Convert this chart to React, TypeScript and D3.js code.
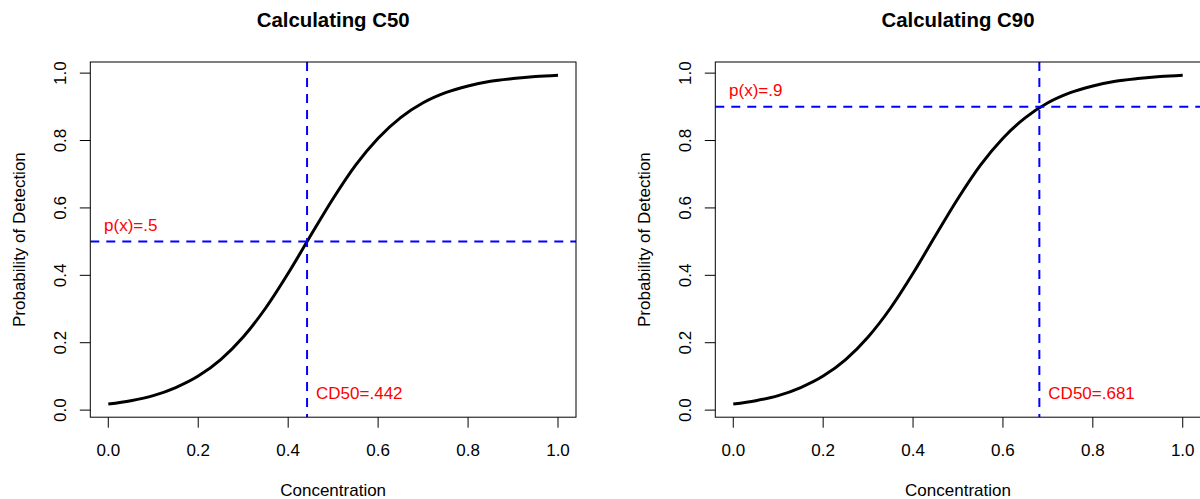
import React from "react";
import * as d3 from "d3";

// Concentration grid and estimated probability of detection
const concentration = [0, 0.05, 0.1, 0.15, 0.2, 0.25, 0.3, 0.35, 0.4, 0.45, 0.5, 0.55, 0.6, 0.65, 0.7, 0.75, 0.8, 0.85, 0.9, 0.95, 1.0];
const probability = [0.018, 0.028, 0.043, 0.067, 0.101, 0.15, 0.217, 0.303, 0.406, 0.518, 0.628, 0.727, 0.807, 0.868, 0.912, 0.942, 0.962, 0.976, 0.984, 0.99, 0.994];

const xTicks = [0, 0.2, 0.4, 0.6, 0.8, 1.0];
const yTicks = [0, 0.2, 0.4, 0.6, 0.8, 1.0];

const panelTitles = ["Calculating C50", "Calculating C90"];
const targetP = [0.5, 0.9];
const targetC = [0.442, 0.681];
const pLabels = ["p(x)=.5", "p(x)=.9"];
const cLabels = ["CD50=.442", "CD50=.681"];
const pLabelPos = [0.55, 0.95];

const FONT = "'Liberation Sans', Arial, Helvetica, sans-serif";

function Panel({ idx, left, right }: { idx: number; left: number; right: number }) {
  const top = 62;
  const bottom = 417.2;
  const xDom = [0, 1];
  const xr = xDom[1] - xDom[0];
  const xScale = d3.scaleLinear().domain([xDom[0] - 0.04 * xr, xDom[1] + 0.04 * xr]).range([left, right]);
  const [ymin, ymax] = d3.extent(probability) as [number, number];
  const yr = ymax - ymin;
  const yScale = d3.scaleLinear().domain([ymin - 0.04 * yr, ymax + 0.04 * yr]).range([bottom, top]);

  const data = concentration.map((c, i) => [c, probability[i]] as [number, number]);
  const line = d3
    .line<[number, number]>()
    .x((d) => xScale(d[0]))
    .y((d) => yScale(d[1]))
    .curve(d3.curveMonotoneX);

  const clipId = `clip${idx}`;
  const cx = (left + right) / 2;
  const cy = (top + bottom) / 2;
  const fmt = d3.format(".1f");

  return (
    <g>
      <defs>
        <clipPath id={clipId}>
          <rect x={left} y={top} width={right - left} height={bottom - top} />
        </clipPath>
      </defs>
      <text x={cx} y={27} textAnchor="middle" fontFamily={FONT} fontWeight="bold" fontSize={20.4} fill="#000">
        {panelTitles[idx]}
      </text>
      <g clipPath={`url(#${clipId})`}>
        <path d={line(data) || ""} fill="none" stroke="#000" strokeWidth={3} />
        <line
          x1={left}
          x2={right}
          y1={yScale(targetP[idx])}
          y2={yScale(targetP[idx])}
          stroke="#0000FF"
          strokeWidth={2}
          strokeDasharray="9,7"
        />
        <line
          x1={xScale(targetC[idx])}
          x2={xScale(targetC[idx])}
          y1={top}
          y2={bottom}
          stroke="#0000FF"
          strokeWidth={2}
          strokeDasharray="9,7"
        />
      </g>
      <rect x={left} y={top} width={right - left} height={bottom - top} fill="none" stroke="#000" strokeWidth={1} />
      {xTicks.map((t) => (
        <g key={"x" + t}>
          <line x1={xScale(t)} x2={xScale(t)} y1={bottom} y2={bottom + 10.5} stroke="#000" strokeWidth={1} />
          <text x={xScale(t)} y={455.5} textAnchor="middle" fontFamily={FONT} fontSize={17} fill="#000">
            {fmt(t)}
          </text>
        </g>
      ))}
      {yTicks.map((t) => (
        <g key={"y" + t}>
          <line x1={left - 10.5} x2={left} y1={yScale(t)} y2={yScale(t)} stroke="#000" strokeWidth={1} />
          <text
            transform={`translate(${left - 24.6},${yScale(t)}) rotate(-90)`}
            textAnchor="middle"
            fontFamily={FONT}
            fontSize={17}
            fill="#000"
          >
            {fmt(t)}
          </text>
        </g>
      ))}
      <text x={cx} y={496} textAnchor="middle" fontFamily={FONT} fontSize={17} fill="#000">
        Concentration
      </text>
      <text
        transform={`translate(${left - 65.3},${cy}) rotate(-90)`}
        textAnchor="middle"
        fontFamily={FONT}
        fontSize={17}
        fill="#000"
      >
        Probability of Detection
      </text>
      <text
        x={xScale(0.05)}
        y={yScale(pLabelPos[idx]) + 6}
        textAnchor="middle"
        fontFamily={FONT}
        fontSize={17}
        fill="#FF0000"
      >
        {pLabels[idx]}
      </text>
      <text
        x={xScale(targetC[idx]) + 9}
        y={yScale(0.05) + 6}
        textAnchor="start"
        fontFamily={FONT}
        fontSize={17}
        fill="#FF0000"
      >
        {cLabels[idx]}
      </text>
    </g>
  );
}

export default function App() {
  return (
    <svg
      width={1200}
      height={499}
      style={{ position: "absolute", left: 0, top: 0, background: "#fff" }}
    >
      <rect x={0} y={0} width={1200} height={499} fill="#fff" />
      <Panel idx={0} left={90.3} right={576} />
      <Panel idx={1} left={715.3} right={1200.7} />
    </svg>
  );
}
